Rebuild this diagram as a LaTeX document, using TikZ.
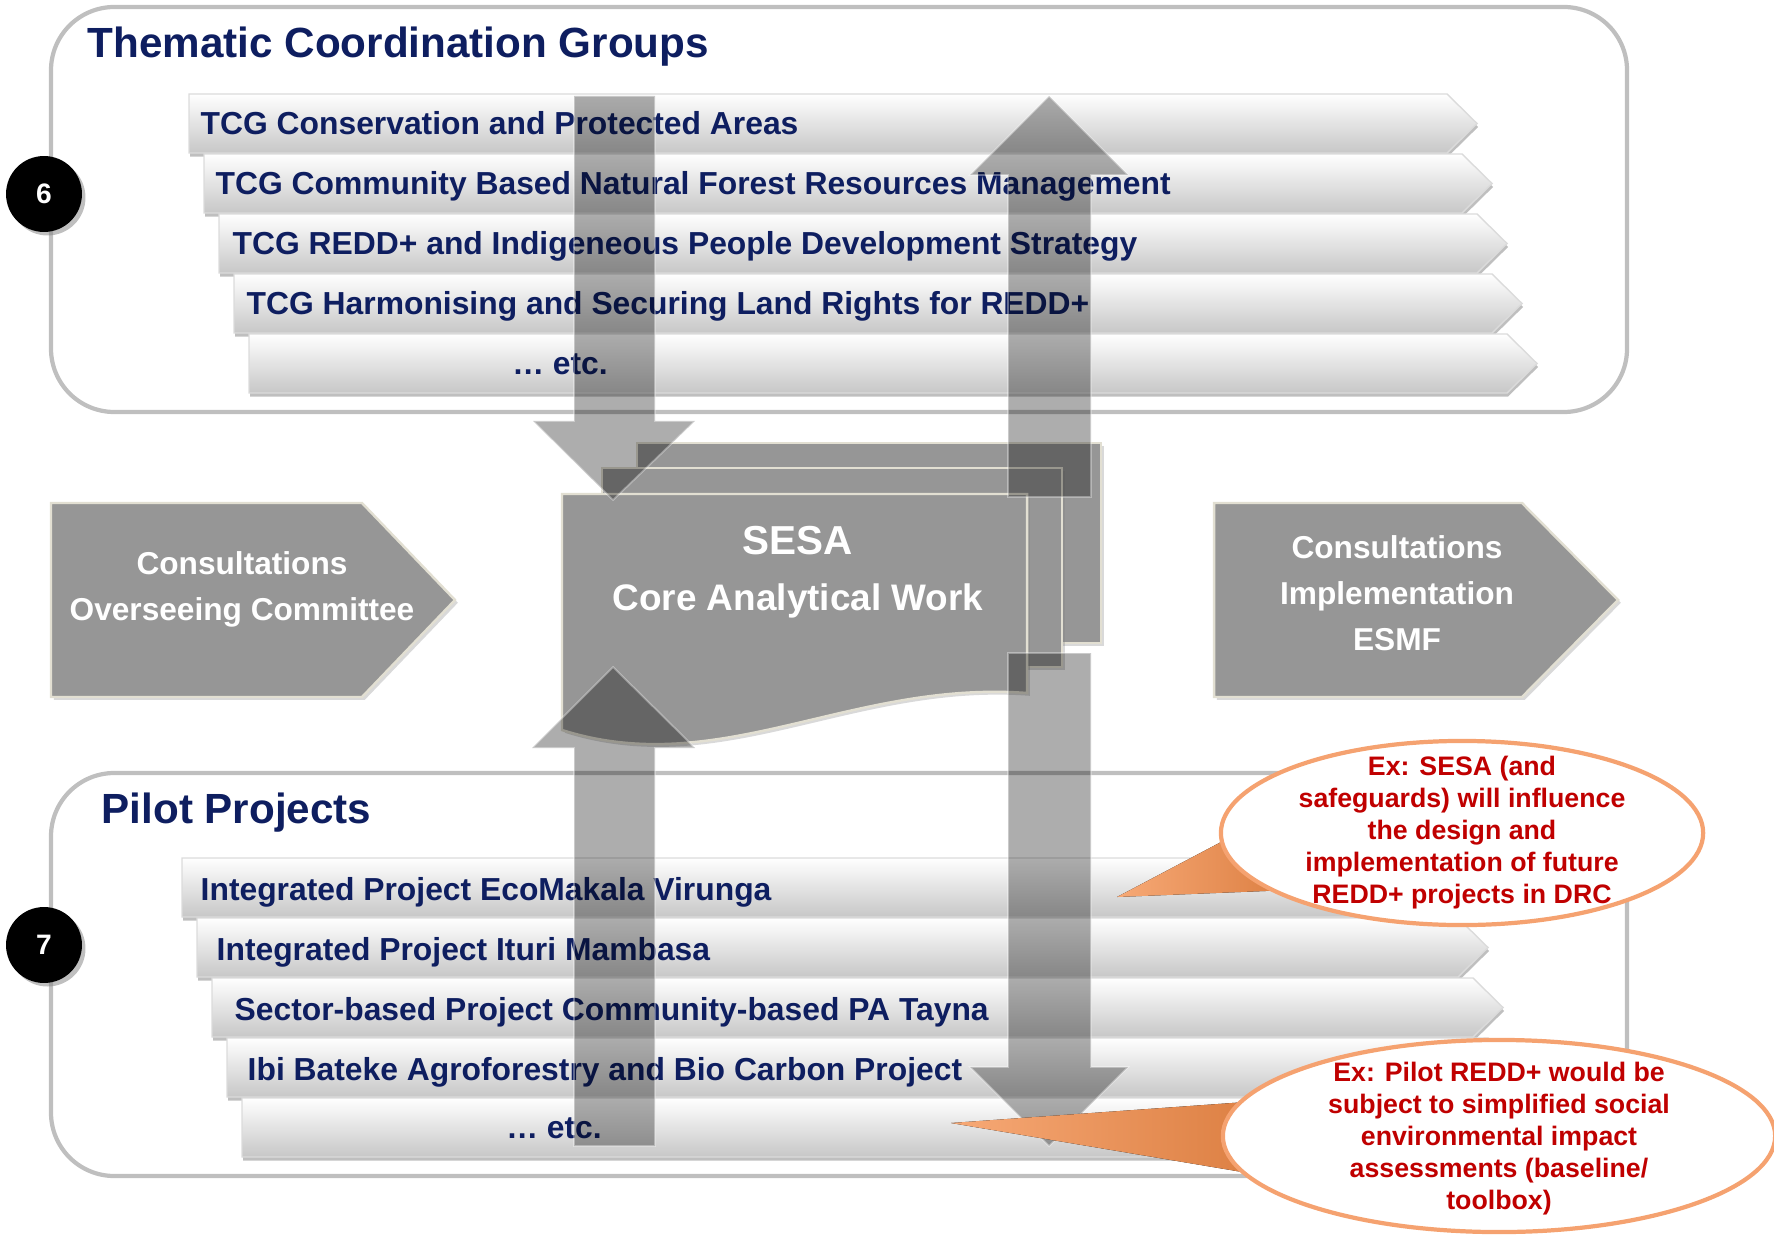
\documentclass[tikz,border=0pt]{standalone}
\usepackage{fontspec}
\setmainfont{Liberation Sans}
\usetikzlibrary{shapes.geometric,shadows,calc}
\definecolor{navy}{RGB}{14,30,96}
\definecolor{docgray}{RGB}{150,150,150}
\definecolor{cream}{RGB}{226,223,210}
\definecolor{boxgray}{RGB}{191,191,191}
\definecolor{exred}{RGB}{192,0,0}
\definecolor{exline}{RGB}{245,162,112}
\definecolor{exfill}{RGB}{244,140,72}
\tikzset{
  >=latex,
}
\tikzstyle{group}=[draw=boxgray, line width=1.2pt, rounded corners=18pt]
\tikzstyle{grouptitle}=[anchor=base west, inner sep=0, text=navy, font=\bfseries\fontsize{12}{14}\selectfont]
\tikzstyle{bar}=[top color=white, middle color=black!3, bottom color=black!22, draw=black!14, line width=.4pt,
  drop shadow={opacity=.5, shadow xshift=.3pt, shadow yshift=-1pt}]
\tikzstyle{bartext}=[anchor=base west, inner sep=0, text=navy, font=\bfseries\fontsize{9.05}{11}\selectfont]
\tikzstyle{grayshape}=[fill=docgray, draw=cream, line width=.7pt,
  drop shadow={opacity=.3, shadow xshift=.8pt, shadow yshift=-.8pt}]
\tikzstyle{graytext}=[align=center, inner sep=0, text=white, font=\bfseries\fontsize{9}{13.1}\selectfont]
\tikzstyle{flow}=[fill=black, fill opacity=.32, draw=white, draw opacity=.35, line width=.5pt]
\tikzstyle{pointer}=[left color=exfill!75!white, right color=exfill!90!black]
\tikzstyle{callout}=[ellipse, draw=exline, line width=1.2pt, fill=white, inner sep=0]
\tikzstyle{callouttext}=[align=center, inner sep=0, text=exred, font=\bfseries\fontsize{7.6}{9.1}\selectfont]
\tikzstyle{number}=[circle, fill=black, text=white, minimum size=21.6pt, inner sep=0,
  font=\bfseries\fontsize{8}{9}\selectfont, drop shadow={opacity=.5, shadow xshift=1pt, shadow yshift=-1pt}]
\begin{document}
\begin{tikzpicture}[x=0.01cm,y=-0.01cm]
  \useasboundingbox (0,0) rectangle (1774,1234);
  \draw[group] (51,7) rectangle (1627,412);
  \draw[group] (51,773) rectangle (1627,1176);
  \node[grouptitle] (tcgtitle) at (87,58) {Thematic Coordination Groups};
  \node[grouptitle] (pilottitle) at (101,823) {Pilot Projects};

  \foreach \i in {0,...,4}{
    \pgfmathsetmacro\bx{189+15*\i}
    \pgfmathsetmacro\by{94+60*\i}
    \pgfmathsetmacro\tx{1477+15*\i}
    \path[bar] (\bx,\by) -- (\tx-30,\by) -- (\tx,\by+29.5) -- (\tx-30,\by+59) -- (\bx,\by+59) -- cycle;
    \pgfmathsetmacro\px{182+15*\i}
    \pgfmathsetmacro\py{858+60*\i}
    \pgfmathsetmacro\qx{1473+15*\i}
    \path[bar] (\px,\py) -- (\qx-30,\py) -- (\qx,\py+29.5) -- (\qx-30,\py+59) -- (\px,\py+59) -- cycle;
  }
  \node[bartext] (tcg1) at (200,135) {TCG Conservation and Protected Areas};
  \node[bartext] (tcg2) at (215,195) {TCG Community Based Natural Forest Resources Management};
  \node[bartext] (tcg3) at (232,255) {TCG REDD+ and Indigeneous People Development Strategy};
  \node[bartext] (tcg4) at (246,315) {TCG Harmonising and Securing Land Rights for REDD+};
  \node[bartext, anchor=base] (tcg5) at (560,375) {… etc.};
  \node[bartext] (pp1) at (200,900) {Integrated Project EcoMakala Virunga};
  \node[bartext] (pp2) at (216,960) {Integrated Project Ituri Mambasa};
  \node[bartext] (pp3) at (234,1020) {Sector-based Project Community-based PA Tayna};
  \node[bartext] (pp4) at (247,1080) {Ibi Bateke Agroforestry and Bio Carbon Project};
  \node[bartext, anchor=base] (pp5) at (554,1138) {… etc.};

  \path[grayshape] (51,503) -- (362,503) -- (455,600) -- (362,697) -- (51,697) -- cycle;
  \node[graytext] (consL) at (242,589) {Consultations\\Overseeing Committee};
  \path[grayshape] (1214,503) -- (1522,503) -- (1618,600) -- (1522,697) -- (1214,697) -- cycle;
  \node[graytext] (consR) at (1397,593) {Consultations\\Implementation\\ESMF};

  \path[grayshape] (637,443) rectangle (1101,643);
  \path[grayshape] (602,468) rectangle (1062,667);
  \path[grayshape] (562,494) -- (1027,494) -- (1027,693)
    .. controls (850,680) and (720,780) .. (562,730) -- cycle;
  \node[graytext, anchor=base, font=\bfseries\fontsize{11.5}{14}\selectfont] (sesa) at (798,554) {SESA};
  \node[graytext, anchor=base, font=\bfseries\fontsize{10.5}{13}\selectfont] (sesawork) at (798,610) {Core Analytical Work};

  \path[flow] (574,96) -- (655,96) -- (655,421) -- (695,421) -- (613,500) -- (533,421) -- (574,421) -- cycle;
  \path[flow] (613,667) -- (695,748) -- (655,748) -- (655,1146) -- (574,1146) -- (574,748) -- (532,748) -- cycle;
  \path[flow] (1049,96) -- (1128,175) -- (1091,175) -- (1091,497) -- (1008,497) -- (1008,175) -- (970,175) -- cycle;
  \path[flow] (1008,653) -- (1091,653) -- (1091,1067) -- (1128,1067) -- (1049,1146) -- (970,1067) -- (1008,1067) -- cycle;

  \coordinate (tip1) at (1117,897);
  \coordinate (tip2) at (951,1123);
  \fill[pointer] (tip1) -- (1240,832) -- (1290,890) -- cycle;
  \node[callout, minimum width=4.82cm, minimum height=1.84cm] (ex1) at (1462,833) {};
  \node[callouttext] (ex1t) at (ex1) {Ex: SESA (and\\safeguards) will influence\\the design and\\implementation of future\\REDD+ projects in DRC};
  \fill[pointer] (tip2) -- (1260,1101) -- (1266,1176) -- cycle;
  \node[callout, minimum width=5.52cm, minimum height=1.92cm] (ex2) at (1499,1136) {};
  \node[callouttext] (ex2t) at (1499,1139) {Ex: Pilot REDD+ would be\\subject to simplified social\\environmental impact\\assessments (baseline/\\toolbox)};

  \node[number] (n6) at (44,194) {6};
  \node[number] (n7) at (44,945) {7};
\end{tikzpicture}
\end{document}
